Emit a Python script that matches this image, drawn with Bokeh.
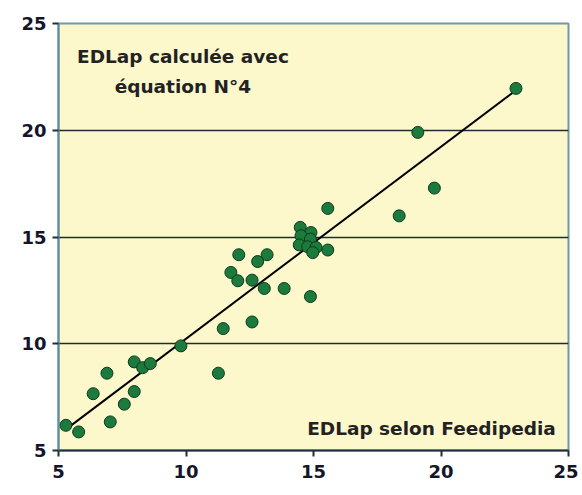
import numpy as np
from bokeh.plotting import figure
from bokeh.models import Label, FixedTicker, ColumnDataSource
from bokeh.embed import file_html
from bokeh.resources import INLINE

# EDLap selon Feedipedia (x) vs EDLap calculée avec équation N°4 (y)
edlap_feedipedia = [5.29, 5.79, 7.03, 6.36, 6.90, 7.58, 7.97, 7.97, 8.30, 8.60,
                    9.80, 11.27, 11.46, 12.59, 11.76, 12.03, 12.59, 12.07, 12.81, 13.18,
                    13.07, 13.85, 15.56, 14.48, 14.90, 14.51, 14.88, 14.44, 14.77, 15.10,
                    14.97, 15.56, 14.88, 18.36, 19.09, 19.74, 22.94]
edlap_equation4 = [6.18, 5.87, 6.34, 7.66, 8.62, 7.17, 7.76, 9.15, 8.88, 9.07,
                   9.90, 8.62, 10.71, 11.02, 13.34, 12.95, 12.98, 14.17, 13.85, 14.17,
                   12.59, 12.59, 16.34, 15.45, 15.21, 15.06, 14.90, 14.63, 14.54, 14.51,
                   14.27, 14.39, 12.21, 15.99, 19.90, 17.29, 21.96]
axis_ticks = [5, 10, 15, 20, 25]
# trend line coefficients
trend_slope = 0.90
trend_intercept = 1.23

FONT = "DejaVu Sans"
TXT = "#15152a"

p = figure(width=578, height=490, x_range=(5, 25), y_range=(5, 25),
           output_backend="svg", toolbar_location=None,
           min_border_left=58, min_border_right=10, min_border_top=23, min_border_bottom=40)

p.background_fill_color = "#FDF8CC"
p.border_fill_color = "white"
p.outline_line_color = "#6E9AA6"
p.outline_line_width = 2

for ax in (p.xaxis, p.yaxis):
    ax.ticker = FixedTicker(ticks=axis_ticks)
    ax.major_label_text_font = FONT
    ax.major_label_text_font_style = "bold"
    ax.major_label_text_font_size = "18px"
    ax.major_label_text_color = TXT
    ax.major_tick_out = 6
    ax.major_tick_in = 0
    ax.minor_tick_out = 0
    ax.minor_tick_in = 0
    ax.major_tick_line_color = "#203038"
    ax.major_tick_line_width = 2
    ax.axis_line_width = 2

p.xaxis.axis_line_color = "#203038"
p.yaxis.axis_line_color = "#5F8E9C"
p.xaxis.major_label_standoff = 8
p.yaxis.major_label_standoff = 6

p.xgrid.grid_line_color = None
p.ygrid.ticker = FixedTicker(ticks=axis_ticks)
p.ygrid.grid_line_color = "#1E2E30"
p.ygrid.grid_line_width = 1.5

xs = np.array(edlap_feedipedia)
lx = np.array([xs.min(), xs.max()])
p.line(lx, trend_intercept + trend_slope * lx, line_color="black", line_width=2)

src = ColumnDataSource(dict(x=edlap_feedipedia, y=edlap_equation4))
p.scatter("x", "y", source=src, size=12, fill_color="#1B7A3C",
          line_color="#0C3A1E", line_width=1)

p.add_layout(Label(x=9.88, y=23.45, text="EDLap calculée avec", text_align="center",
                   text_baseline="middle", text_font=FONT, text_font_style="bold",
                   text_font_size="18.5px", text_color="#222222"))
p.add_layout(Label(x=9.88, y=22.04, text="équation N°4", text_align="center",
                   text_baseline="middle", text_font=FONT, text_font_style="bold",
                   text_font_size="18.5px", text_color="#222222"))
p.add_layout(Label(x=24.5, y=6.05, text="EDLap selon Feedipedia", text_align="right",
                   text_baseline="middle", text_font=FONT, text_font_style="bold",
                   text_font_size="18.5px", text_color="#222222"))

open("out.html", "w").write(file_html(p, INLINE))
